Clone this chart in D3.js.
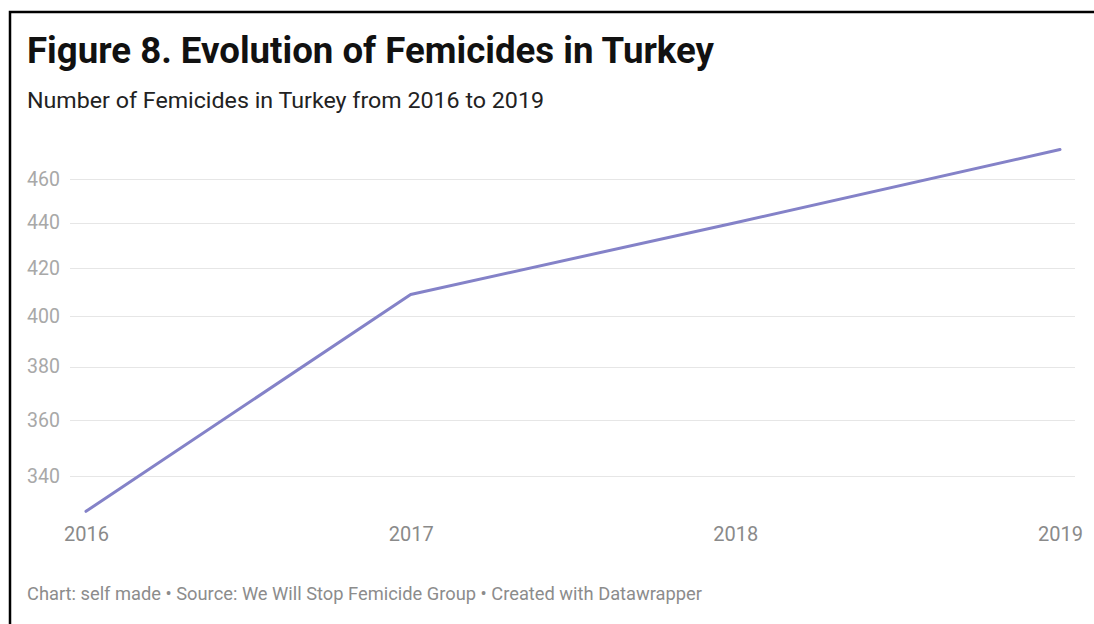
<!DOCTYPE html>
<html>
<head>
<meta charset="utf-8">
<script src="https://cdn.jsdelivr.net/npm/d3@7"></script>
<style>
  html, body { margin: 0; padding: 0; background: #fff; }
  svg { display: block; font-family: Roboto, "Noto Sans", sans-serif; }
</style>
</head>
<body>
<svg id="chart" width="1094" height="624"></svg>
<script>
const years = ["2016", "2017", "2018", "2019"];
const femicides = [328, 409, 440, 474];
const yTicks = [340, 360, 380, 400, 420, 440, 460];
const title = "Figure 8. Evolution of Femicides in Turkey";
const subtitle = "Number of Femicides in Turkey from 2016 to 2019";
const footer = "Chart: self made \u2022 Source: We Will Stop Femicide Group \u2022 Created with Datawrapper";

const svg = d3.select("#chart");

// frame (cropped screenshot border: left and top)
svg.append("path")
  .attr("d", "M10,624 L10,12 L1094,12")
  .attr("fill", "none")
  .attr("stroke", "#000")
  .attr("stroke-width", 2.5);

svg.append("text")
  .attr("x", 27).attr("y", 63)
  .attr("font-size", 36.8).attr("font-weight", 700)
  .attr("fill", "#111")
  .attr("textLength", 687).attr("lengthAdjust", "spacingAndGlyphs")
  .text(title);

svg.append("text")
  .attr("x", 27).attr("y", 108)
  .attr("font-size", 22.5)
  .attr("fill", "#222")
  .attr("textLength", 517).attr("lengthAdjust", "spacingAndGlyphs")
  .text(subtitle);

const x = d3.scalePoint().domain(years).range([86, 1060]);
const y = d3.scaleLog().domain([340, 460]).range([476, 179]);

// y axis labels
const yAxis = d3.axisLeft(y).tickValues(yTicks).tickSize(0).tickFormat(d3.format("d"));
const gy = svg.append("g").attr("transform", "translate(60,0)").call(yAxis);
gy.select(".domain").remove();
gy.selectAll("text")
  .attr("x", 0)
  .attr("font-size", 19.5)
  .attr("font-family", "Roboto, sans-serif")
  .attr("fill", "#a8a8a8");

// grid lines
svg.append("g").selectAll("line")
  .data(yTicks).join("line")
  .attr("x1", 70).attr("x2", 1075)
  .attr("y1", d => Math.round(y(d)) + 0.5)
  .attr("y2", d => Math.round(y(d)) + 0.5)
  .attr("stroke", "#e6e6e6").attr("stroke-width", 1.2);

// x axis labels
const xAxis = d3.axisBottom(x).tickSize(0);
const gx = svg.append("g").attr("transform", "translate(0,524)").call(xAxis);
gx.select(".domain").remove();
gx.selectAll("text")
  .attr("font-size", 20)
  .attr("font-family", "Roboto, sans-serif")
  .attr("fill", "#8a8a8a");

// line
const line = d3.line().x((d, i) => x(years[i])).y(d => y(d));
svg.append("path")
  .datum(femicides)
  .attr("d", line)
  .attr("fill", "none")
  .attr("stroke", "#8482c8")
  .attr("stroke-width", 3)
  .attr("stroke-linecap", "round")
  .attr("stroke-linejoin", "round");

svg.append("text")
  .attr("x", 27).attr("y", 600)
  .attr("font-size", 17.5)
  .attr("fill", "#8c8c8c")
  .attr("textLength", 675).attr("lengthAdjust", "spacingAndGlyphs")
  .text(footer);
</script>
</body>
</html>
